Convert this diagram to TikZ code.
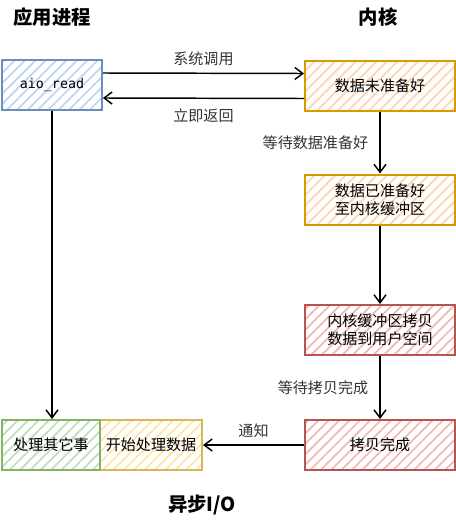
\documentclass[tikz,border=0pt]{standalone}
\usepackage{fontspec}
\setmainfont{Noto Sans CJK SC}
\newfontfamily\codefont{DejaVu Sans Mono}
\usetikzlibrary{arrows.meta,patterns.meta}

\definecolor{blueline}{RGB}{108,142,191}
\definecolor{bluefill}{RGB}{190,212,245}
\definecolor{orangeline}{RGB}{215,155,0}
\definecolor{orangefill}{RGB}{255,212,170}
\definecolor{redline}{RGB}{184,84,80}
\definecolor{redfill}{RGB}{242,182,180}
\definecolor{yellowline}{RGB}{214,182,86}
\definecolor{yellowfill}{RGB}{255,230,165}
\definecolor{greenline}{RGB}{130,179,102}
\definecolor{greenfill}{RGB}{192,222,186}

\tikzstyle{rect} = [rectangle, minimum width=112.5pt, minimum height=37.5pt, text centered, align=center, line width=1.5pt, font=\fontsize{11.3}{13.5}\selectfont, pattern={Lines[angle=45,distance=5.5pt,line width=1.3pt]}]
\tikzstyle{bluebox} = [draw=blueline, pattern color=bluefill]
\tikzstyle{orangebox} = [draw=orangeline, pattern color=orangefill]
\tikzstyle{redbox} = [draw=redline, pattern color=redfill]
\tikzstyle{yellowbox} = [draw=yellowline, pattern color=yellowfill]
\tikzstyle{greenbox} = [draw=greenline, pattern color=greenfill]
\tikzstyle{arrow} = [line width=1.1pt, -{Straight Barb[length=6pt,width=9pt]}]
\tikzstyle{note} = [font=\fontsize{11.3}{13.5}\selectfont, text=black!80]
\tikzstyle{title} = [font=\fontsize{14.5}{16}\selectfont\bfseries]

\begin{document}
\begin{tikzpicture}[x=0.75pt, y=-0.75pt]
\useasboundingbox (0,0) rectangle (456,521);

\node (appt) [title] at (52,17) {应用进程};
\node (kernt) [title] at (378,17) {内核};

\node (aio) [rect, bluebox, minimum width=75pt] at (52,85) {\codefont\fontsize{10}{12}\selectfont aio\_read};
\node (nodata) [rect, orangebox] at (380,85.5) {数据未准备好};
\node (ready) [rect, orangebox] at (380,199.5) {数据已准备好\\至内核缓冲区};
\node (copy) [rect, redbox] at (380,330) {内核缓冲区拷贝\\数据到用户空间};
\node (done) [rect, redbox] at (380,445) {拷贝完成};
\node (start) [rect, yellowbox, minimum width=76.5pt] at (151,445) {开始处理数据};
\node (other) [rect, greenbox, minimum width=73.5pt] at (51,445) {处理其它事};

\node (caption) [title] at (202,505) {异步I/O};

\draw[arrow] ([yshift=9pt]aio.east) -- node[note, above=2pt] {系统调用} ([yshift=9pt]nodata.west);
\draw[arrow] ([yshift=-9.75pt]nodata.west) -- node[note, below=4pt] {立即返回} ([yshift=-9.75pt]aio.east);
\draw[arrow] (nodata) -- node[note, left=5pt] {等待数据准备好} (ready);
\draw[arrow] (ready) -- (copy);
\draw[arrow] (copy) -- node[note, left=5pt] {等待拷贝完成} (done);
\draw[arrow] (done) -- node[note, above=2pt] {通知} (start);
\draw[arrow] (aio) -- (aio |- other.north);

\end{tikzpicture}
\end{document}
